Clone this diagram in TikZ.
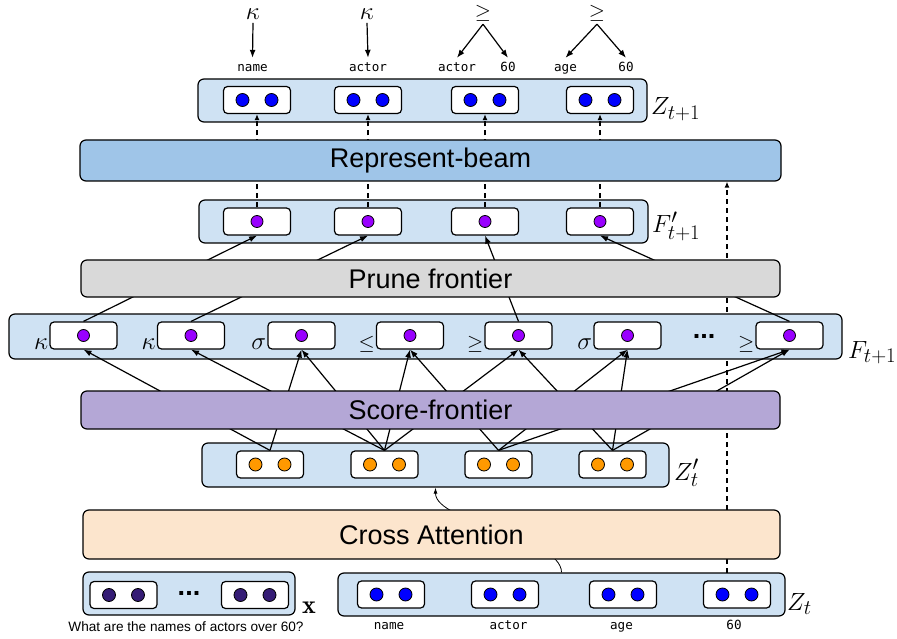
\documentclass[tikz,border=0pt]{standalone}
\usepackage{fontspec}
\newfontfamily\boxfont{Liberation Sans}
\newfontfamily\codefont{DejaVu Sans Mono}
\usetikzlibrary{arrows.meta}
\definecolor{rowblue}{HTML}{CFE2F3}
\definecolor{beamblue}{HTML}{9FC5E8}
\definecolor{prunegray}{HTML}{D9D9D9}
\definecolor{scorepurple}{HTML}{B4A7D6}
\definecolor{crosspeach}{HTML}{FCE5CD}
\definecolor{dotblue}{HTML}{0000FF}
\definecolor{dotviolet}{HTML}{9900FF}
\definecolor{dotorange}{HTML}{FF9900}
\definecolor{dotnavy}{HTML}{351C75}
\pgfdeclarelayer{background}
\pgfsetlayers{background,main}

\begin{document}
\begin{tikzpicture}[x=1pt,y=-1pt,>={Latex[length=8pt,width=6pt]},
  row/.style={draw,line width=1.2pt,fill=rowblue,rounded corners=6pt,inner sep=0pt},
  cell/.style={draw,line width=1.2pt,fill=white,rounded corners=4pt,
    minimum width=67pt,minimum height=27pt,inner sep=0pt},
  dot/.style={circle,draw,line width=0.8pt,minimum size=13pt,inner sep=0pt},
  bigbox/.style={draw,line width=1.2pt,rounded corners=6pt,inner sep=0pt,
    font=\boxfont\fontsize{27}{30}\selectfont},
  word/.style={font=\codefont\fontsize{12.6}{14}\selectfont,anchor=base,
    inner sep=4pt,text height=10pt,text depth=2pt},
  lab/.style={font=\fontsize{29}{32}\selectfont},
  rel/.style={font=\fontsize{21}{24}\selectfont},
  link/.style={line width=1.2pt,->},
  skiplink/.style={line width=1.5pt,->,>={Latex[length=6pt,width=5pt]},
    dash pattern=on 5pt off 4pt}]
  %
  \useasboundingbox (0,0) rectangle (897,639);

  % rows of embeddings
  \node[row,minimum width=449pt,minimum height=43pt] (zn) at (422.5,100.5) {};
  \node[row,minimum width=449pt,minimum height=43pt] (fp) at (423.5,221.5) {};
  \node[row,minimum width=833pt,minimum height=45pt] (f)  at (425.5,336.5) {};
  \node[row,minimum width=467pt,minimum height=44pt] (zp) at (435.5,465) {};
  \node[row,minimum width=447pt,minimum height=43pt] (zt) at (561.5,594.5) {};
  \node[row,minimum width=212pt,minimum height=43pt] (xq) at (189,593.5) {};

  \foreach \x [count=\i] in {257,368,485,600} {
    \node[cell] (zn\i) at (\x,100) {};
    \node[dot,fill=dotblue,xshift=-14.5pt] at (zn\i) {};
    \node[dot,fill=dotblue,xshift=14.5pt] at (zn\i) {};
    \node[cell] (fp\i) at (\x,221.5) {};
    \node[dot,fill=dotviolet,minimum size=12pt] at (fp\i) {};
  }
  \foreach \x [count=\i] in {83.5,191,301.5,410,518.5,627.5,789.5} {
    \node[cell] (f\i) at (\x,335.5) {};
    \node[dot,fill=dotviolet,minimum size=12pt] at (f\i) {};
  }
  \foreach \x [count=\i] in {270,384.5,498.5,612.5} {
    \node[cell] (zp\i) at (\x,464.5) {};
    \node[dot,fill=dotorange,xshift=-14.5pt] at (zp\i) {};
    \node[dot,fill=dotorange,xshift=14.5pt] at (zp\i) {};
  }
  \foreach \x [count=\i] in {391,505,623,737} {
    \node[cell] (zt\i) at (\x,594.5) {};
    \node[dot,fill=dotblue,xshift=-14.5pt] at (zt\i) {};
    \node[dot,fill=dotblue,xshift=14.5pt] at (zt\i) {};
  }
  \foreach \x [count=\i] in {123.5,255} {
    \node[cell] (xq\i) at (\x,595) {};
    \node[dot,fill=dotnavy,xshift=-14.5pt] at (xq\i) {};
    \node[dot,fill=dotnavy,xshift=14.5pt] at (xq\i) {};
  }

  % score and prune links
  \foreach \a/\b in {1/1,1/3,2/2,2/3,2/4,2/5,3/4,3/6,3/7,4/5,4/6,4/7}
    \draw[link] (zp\a.north) -- (f\b.south);
  \foreach \a/\b in {1/1,2/2,5/3,7/4}
    \draw[link] (f\a.north) -- (fp\b.south);
  \foreach \i in {1,...,4}
    \draw[skiplink] (fp\i.north) -- (zn\i.south);

  % modules
  \node[bigbox,fill=beamblue,minimum width=701pt,minimum height=41pt] (beam) at (430.5,160.5) {Represent-beam};
  \node[bigbox,fill=prunegray,minimum width=699pt,minimum height=37pt] (prune) at (430.5,278.5) {Prune frontier};
  \node[bigbox,fill=scorepurple,minimum width=699pt,minimum height=38pt] (score) at (430.5,410) {Score-frontier};
  \node[bigbox,fill=crosspeach,minimum width=697pt,minimum height=49pt] (cross) at (431.5,534.5) {Cross Attention};

  % row names
  \node[lab,anchor=base west,inner sep=0pt] at (651,115) {$Z_{t+1}$};
  \node[lab,anchor=base west,inner sep=0pt] at (652,233) {$F'_{t+1}$};
  \node[lab,anchor=base west,inner sep=0pt] at (848,358) {$F_{t+1}$};
  \node[lab,anchor=base west,inner sep=0pt] at (674,480) {$Z'_t$};
  \node[lab,anchor=base west,inner sep=0pt] at (787,610) {$Z_t$};
  \node[lab,anchor=base west,inner sep=0pt,font=\fontsize{26}{28}\selectfont] at (302,613) {$\mathbf{x}$};

  % frontier operators
  \foreach \i/\s in {1/\kappa,2/\kappa,3/\sigma,6/\sigma}
    \node[lab,anchor=base east,inner sep=1pt] at (f\i.south west) {$\s$};
  \foreach \i/\s in {4/\leq,5/\geq,7/\geq}
    \node[rel,anchor=base east,inner sep=1pt] at (f\i.south west) {$\s$};
  \node[anchor=base,inner sep=0pt,font=\boxfont\bfseries\fontsize{27}{30}\selectfont] at (704,338) {...};
  \node[anchor=base,inner sep=0pt,font=\boxfont\bfseries\fontsize{27}{30}\selectfont] at (189,595) {...};

  % decoded trees
  \node[lab] (k1) at (253,14) {$\kappa$};
  \node[lab] (k2) at (367,14) {$\kappa$};
  \node[rel,inner sep=1pt] (g1) at (483,13) {$\geq$};
  \node[rel,inner sep=1pt] (g2) at (597,13) {$\geq$};
  \node[word] (w1) at (252.5,72) {name};
  \node[word] (w2) at (368,72) {actor};
  \node[word] (w3) at (457,72) {actor};
  \node[word] (w4) at (508,72) {60};
  \node[word] (w5) at (565.5,72) {age};
  \node[word] (w6) at (626,72) {60};
  \draw[link] (k1.south) -- (w1.north);
  \draw[link] (k2.south) -- (w2.north);
  \draw[link] ([yshift=-2pt]g1.south) -- (w3.north);
  \draw[link] ([yshift=-2pt]g1.south) -- (w4.north);
  \draw[link] ([yshift=-2pt]g2.south) -- (w5.north);
  \draw[link] ([yshift=-2pt]g2.south) -- (w6.north);

  % input tokens
  \node[word] at (389,629) {name};
  \node[word] at (508.5,629) {actor};
  \node[word] at (621.5,629) {age};
  \node[word] at (734,629) {60};
  \node[anchor=base,inner sep=0pt,font=\boxfont\fontsize{13.6}{15}\selectfont] (q) at (186,631)
    {What are the names of actors over 60?};

  \begin{pgfonlayer}{background}
    \coordinate (skip) at (727,573);
    \draw[skiplink] (skip) -- (skip |- beam.south);
    \draw[->,line width=0.8pt,>={Latex[length=6pt,width=4pt]}]
      (zt.north) .. controls +(0,-35) and +(0,35) .. (zp.south);
  \end{pgfonlayer}

\end{tikzpicture}
\end{document}
